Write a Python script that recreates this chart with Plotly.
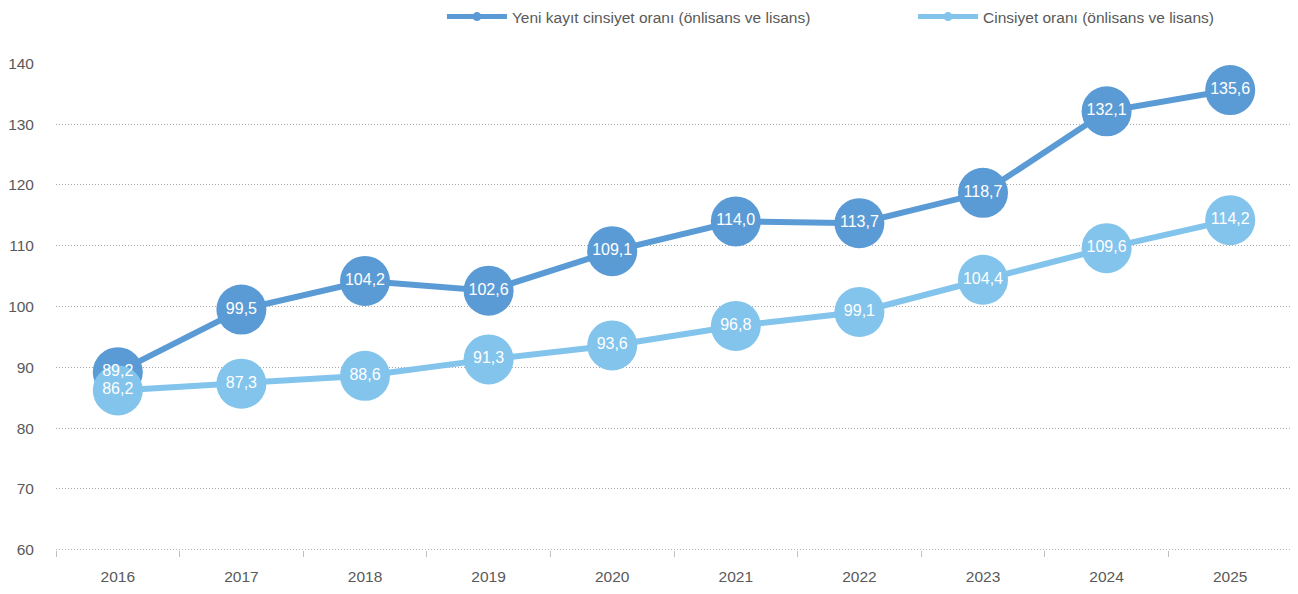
import plotly.graph_objects as go

years = ["2016", "2017", "2018", "2019", "2020", "2021", "2022", "2023", "2024", "2025"]
yeni_kayit = [89.2, 99.5, 104.2, 102.6, 109.1, 114.0, 113.7, 118.7, 132.1, 135.6]
cinsiyet = [86.2, 87.3, 88.6, 91.3, 93.6, 96.8, 99.1, 104.4, 109.6, 114.2]
names = ["Yeni kayıt cinsiyet oranı (önlisans ve lisans)", "Cinsiyet oranı (önlisans ve lisans)"]
colors = ["#5B9BD5", "#82C4EC"]
legends = ["legend", "legend2"]
series = [yeni_kayit, cinsiyet]

FONT = "Liberation Sans"

def fmt(v):
    return f"{v:.1f}".replace(".", ",")

fig = go.Figure()
for vals, col in zip(series, colors):
    fig.add_trace(go.Scatter(
        x=years, y=vals, mode="lines+markers", showlegend=False, hoverinfo="skip",
        line=dict(color=col, width=6),
        marker=dict(size=50, color=col),
        cliponaxis=False,
    ))
# labels drawn last so they sit on top of every marker
for vals in series:
    fig.add_trace(go.Scatter(
        x=years, y=vals, mode="text", showlegend=False,
        text=[fmt(v) for v in vals], textposition="middle center",
        textfont=dict(color="white", size=16, family=FONT),
        cliponaxis=False,
    ))
# legend-only entries with small markers, one legend box each
for name, col, lg in zip(names, colors, legends):
    fig.add_trace(go.Scatter(
        x=[None], y=[None], mode="lines+markers", name=name, legend=lg,
        line=dict(color=col, width=5), marker=dict(size=9, color=col),
    ))

leg_style = dict(orientation="h", xref="container", yref="container",
                 yanchor="middle", y=0.9846, xanchor="left",
                 font=dict(size=15.5, color="#595959"), itemwidth=60,
                 bgcolor="rgba(0,0,0,0)")

fig.update_layout(
    width=1290, height=586,
    margin=dict(l=48, r=6, t=55, b=44),
    paper_bgcolor="white", plot_bgcolor="white",
    font=dict(family=FONT, color="#595959", size=15),
    legend=dict(x=0.3364, **leg_style),
    legend2=dict(x=0.7016, **leg_style),
    xaxis=dict(range=[-0.5, 9.5], showgrid=False, showline=False, ticks="outside",
               tickson="boundaries", ticklen=6, tickcolor="#BFBFBF", tickwidth=1,
               automargin=False, ticklabelstandoff=15,
               tickfont=dict(size=15.5, color="#595959")),
    yaxis=dict(range=[59.95, 140.05], tickvals=[60, 70, 80, 90, 100, 110, 120, 130, 140],
               showline=False, zeroline=False, automargin=False,
               gridcolor="#A6A6A6", griddash="1px,2px", gridwidth=1,
               ticklabelstandoff=21, tickfont=dict(size=15.5, color="#595959")),
    shapes=[dict(type="line", xref="paper", x0=0, x1=1, yref="y", y0=60, y1=60,
                 line=dict(color="#A6A6A6", width=1, dash="1px,2px"), layer="below")],
)

fig.write_html("out.html")
